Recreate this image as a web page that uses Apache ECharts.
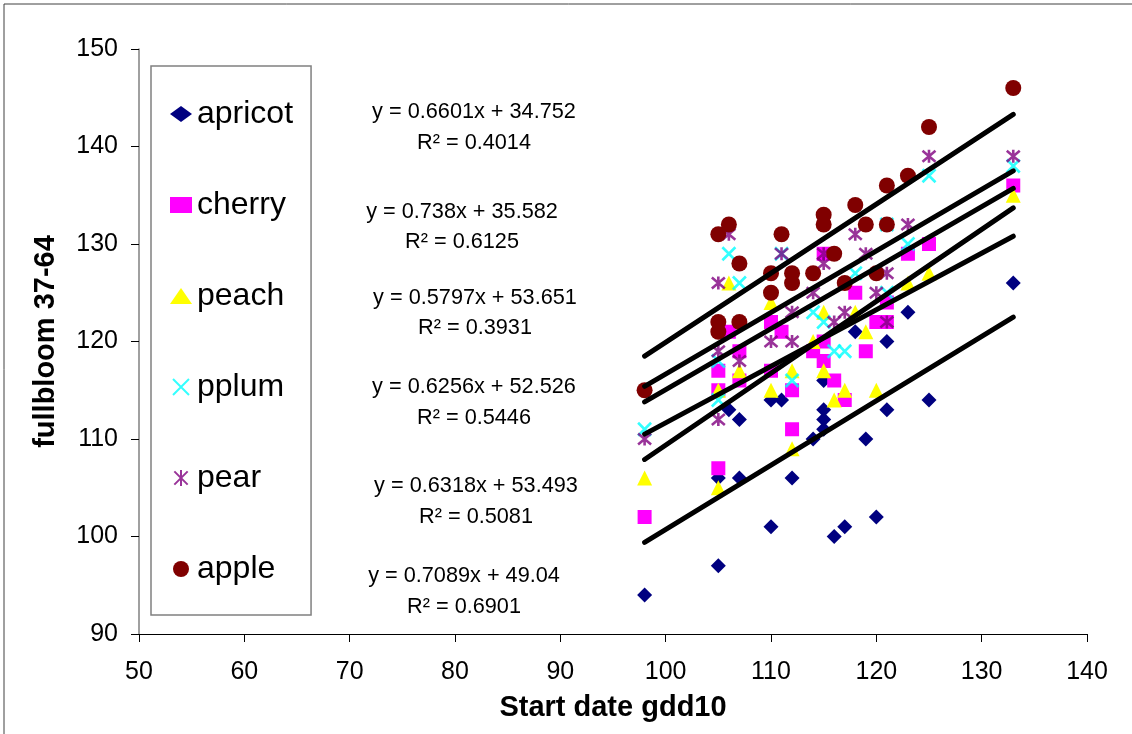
<!DOCTYPE html>
<html><head><meta charset="utf-8">
<script src="https://cdn.jsdelivr.net/npm/echarts@6/dist/echarts.min.js"></script>
<style>html,body{margin:0;padding:0;background:#fff}#c{width:1132px;height:734px}</style>
</head><body><div id="c"></div>
<script>
// ---- data ----
const seriesNames = ['apricot', 'cherry', 'peach', 'pplum', 'pear', 'apple'];

const apricotX = [98,105,105,106,107,107,110,110,111,112,114,115,115,115,115,116,117,118,119,120,121,121,123,125,133];
const apricotY = [94, 97,106,113,112,106,101,114,114,106,110,111,112,113,116,100,101,121,110,102,113,120,123,114,126];

const cherryX = [98,105,105,105,106,107,107,110,110,111,112,112,114,115,115,115,116,117,118,119,120,121,121,123,125,133];
const cherryY = [102,107,117,115,121,119,116,122,117,121,115,111,119,118,120,129,116,114,125,119,122,124,122,129,130,136];

const peachX = [98,105,105,106,107,110,110,112,112,114,115,115,116,117,118,119,120,123,125,133];
const peachY = [106,105,115,126,117,115,124,117,109,120,117,123,114,115,123,121,115,126,127,135];

const pplumX = [98,105,105,106,107,111,112,114,115,116,117,118,121,121,123,125,133];
const pplumY = [111,118,114,129,126,129,116,123,122,119,119,127,132,125,130,137,138];

const pearX = [98,105,105,105,106,107,110,111,112,112,114,115,115,116,117,118,119,120,121,121,123,125,133];
const pearY = [110,126,119,112,131,118,120,129,120,123,125,128,129,122,123,131,129,125,127,122,132,139,139];

const appleX = [98,105,105,105,106,107,107,110,110,111,112,112,114,115,115,116,117,118,119,120,121,121,123,125,133];
const appleY = [115,131,122,121,132,128,122,127,125,131,127,126,127,133,132,129,126,134,132,127,136,132,137,142,146];

// trend line end points (x range and y values)
const trendX = [98, 133];
const trendStartY = [99.4, 107.9, 110.5, 113.8, 115.4, 118.5];
const trendEndY   = [122.5, 133.7, 130.8, 135.7, 137.5, 143.3];

const equationLabels = [
  'y = 0.6601x + 34.752', 'y = 0.738x + 35.582', 'y = 0.5797x + 53.651',
  'y = 0.6256x + 52.526', 'y = 0.6318x + 53.493', 'y = 0.7089x + 49.04'
];
const r2Labels = ['R² = 0.4014', 'R² = 0.6125', 'R² = 0.3931', 'R² = 0.5446', 'R² = 0.5081', 'R² = 0.6901'];

const xAxisRange = [50, 140, 10];
const yAxisRange = [90, 150, 10];
const xAxisTitle = 'Start date gdd10';
const yAxisTitle = 'fullbloom 37-64';

// ---- styling ----
const FONT = 'Arial, "Liberation Sans", sans-serif';
const colors = ['#000080', '#FF00FF', '#FFFF00', '#00FFFF', '#800080', '#800000'];
const symbols = ['diamond', 'rect', 'triangle', 'path://M0,0L10,10M10,0L0,10', 'path://M0,0L10,10M10,0L0,10M5,-1L5,11', 'circle'];
const symbolSizes = [15, 14, 15, 13, 13, 16];
const xs = [apricotX, cherryX, peachX, pplumX, pearX, appleX];
const ys = [apricotY, cherryY, peachY, pplumY, pearY, appleY];

const eqPos = [[474,112,143],[462,212,242],[475,298,328],[474,387,418],[476,486,517],[464,576,607]];

const series = [];
seriesNames.forEach((name, i) => {
  const stroke = symbols[i].indexOf('path://') === 0;
  series.push({
    name, type: 'scatter', symbol: symbols[i], symbolSize: symbolSizes[i],
    z: 2,
    itemStyle: stroke ? {color: colors[i], borderColor: colors[i], borderWidth: 2.6} : {color: colors[i], opacity: 1},
    data: xs[i].map((x, k) => [x, ys[i][k]])
  });
});
seriesNames.forEach((name, i) => {
  series.push({
    name: name + ' trend', type: 'line', z: 5, symbol: 'none', silent: true,
    lineStyle: {color: '#000', width: 5, cap: 'round'},
    data: [[trendX[0], trendStartY[i]], [trendX[1], trendEndY[i]]]
  });
});

const graphics = [{
  type: 'rect', shape: {x: 4, y: 4, width: 1160, height: 780},
  style: {fill: 'none', stroke: '#404040', lineWidth: 1}, silent: true
}];
equationLabels.forEach((t, i) => {
  graphics.push({type: 'text', x: eqPos[i][0], y: eqPos[i][1],
    style: {text: t, font: '21.7px ' + FONT, fill: '#000', align: 'center', verticalAlign: 'middle', textAlign: 'center', textVerticalAlign: 'middle'}});
  graphics.push({type: 'text', x: eqPos[i][0], y: eqPos[i][2],
    style: {text: r2Labels[i], font: '21.7px ' + FONT, fill: '#000', align: 'center', verticalAlign: 'middle', textAlign: 'center', textVerticalAlign: 'middle'}});
});

const chart = echarts.init(document.getElementById('c'), null, {renderer: 'canvas'});
chart.setOption({
  animation: false,
  backgroundColor: '#fff',
  grid: {left: 139, top: 49, width: 948, height: 585, containLabel: false},
  xAxis: {
    type: 'value', min: xAxisRange[0], max: xAxisRange[1], interval: xAxisRange[2],
    name: xAxisTitle, nameLocation: 'middle', nameGap: 59,
    nameTextStyle: {fontFamily: FONT, fontSize: 29, fontWeight: 'bold', color: '#000'},
    axisLine: {show: true, onZero: false, lineStyle: {color: '#000', width: 1}},
    axisTick: {show: true, inside: false, length: 8, lineStyle: {color: '#000'}},
    axisLabel: {fontFamily: FONT, fontSize: 25, color: '#000', margin: 26},
    splitLine: {show: false}
  },
  yAxis: {
    type: 'value', min: yAxisRange[0], max: yAxisRange[1], interval: yAxisRange[2],
    name: yAxisTitle, nameLocation: 'middle', nameGap: 79, nameRotate: 90,
    nameTextStyle: {fontFamily: FONT, fontSize: 29, fontWeight: 'bold', color: '#000'},
    axisLine: {show: true, onZero: false, lineStyle: {color: '#808080', width: 1.5}},
    axisTick: {show: true, inside: false, length: 8, lineStyle: {color: '#000'}},
    axisLabel: {fontFamily: FONT, fontSize: 25, color: '#000', margin: 21},
    splitLine: {show: false}
  },
  legend: {
    data: seriesNames, orient: 'vertical', left: 151, top: 66,
    padding: [32, 18, 30, 19], itemGap: 59, itemWidth: 22, itemHeight: 16,
    borderColor: '#808080', borderWidth: 1.5, borderRadius: 0,
    textStyle: {fontFamily: FONT, fontSize: 32, color: '#000', lineHeight: 32},
    selectedMode: false
  },
  graphic: graphics,
  series
});
</script></body></html>
